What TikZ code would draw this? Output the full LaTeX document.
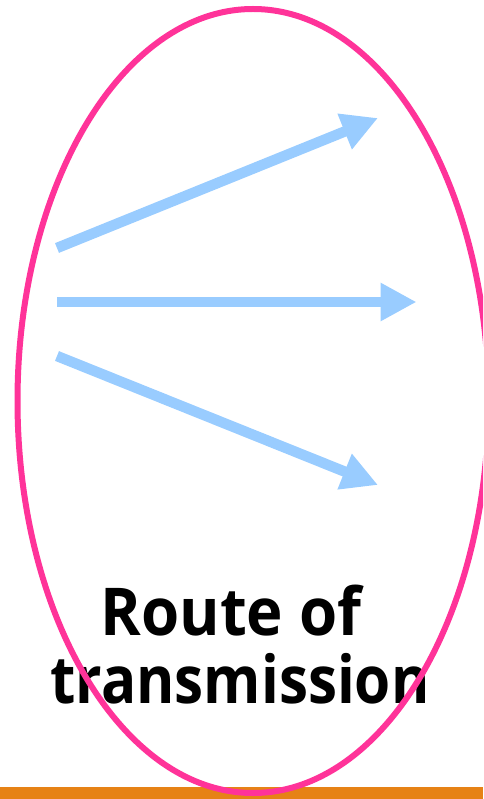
\documentclass[tikz,border=0pt]{standalone}
\usepackage{fontspec}
\setmainfont{Open Sans}
\usetikzlibrary{arrows.meta}
\definecolor{pinkline}{RGB}{255,51,153}
\definecolor{arrowblue}{RGB}{153,204,255}
\definecolor{barorange}{RGB}{230,130,22}
\tikzset{
  flow/.style={draw=arrowblue, line width=10.5pt, -{Triangle[length=36pt,width=36pt]}},
  label/.style={font=\fontsize{66}{68}\selectfont\bfseries, anchor=base, inner sep=0pt}
}
\begin{document}
\begin{tikzpicture}[x=1pt,y=-1pt]
\useasboundingbox (0,0) rectangle (483,799);
\clip (0,0) rectangle (483,799);
\fill[barorange] (0,787) rectangle (483,799);
\coordinate (s1) at (57,248);
\coordinate (e1) at (378,118);
\coordinate (s2) at (57,302);
\coordinate (e2) at (416.5,302);
\coordinate (s3) at (57,356);
\coordinate (e3) at (378,485);
\draw[flow] (s1) -- (e1);
\draw[flow] (s2) -- (e2);
\draw[flow] (s3) -- (e3);
\node[label] (t1) at (231,635) {\scalebox{0.935}[1]{Route of}};
\node[label] (t2) at (240,703) {\scalebox{0.885}[1]{transmission}};
\draw[pinkline, line width=6pt] (253,401) ellipse [x radius=235.5, y radius=392];
\end{tikzpicture}
\end{document}
